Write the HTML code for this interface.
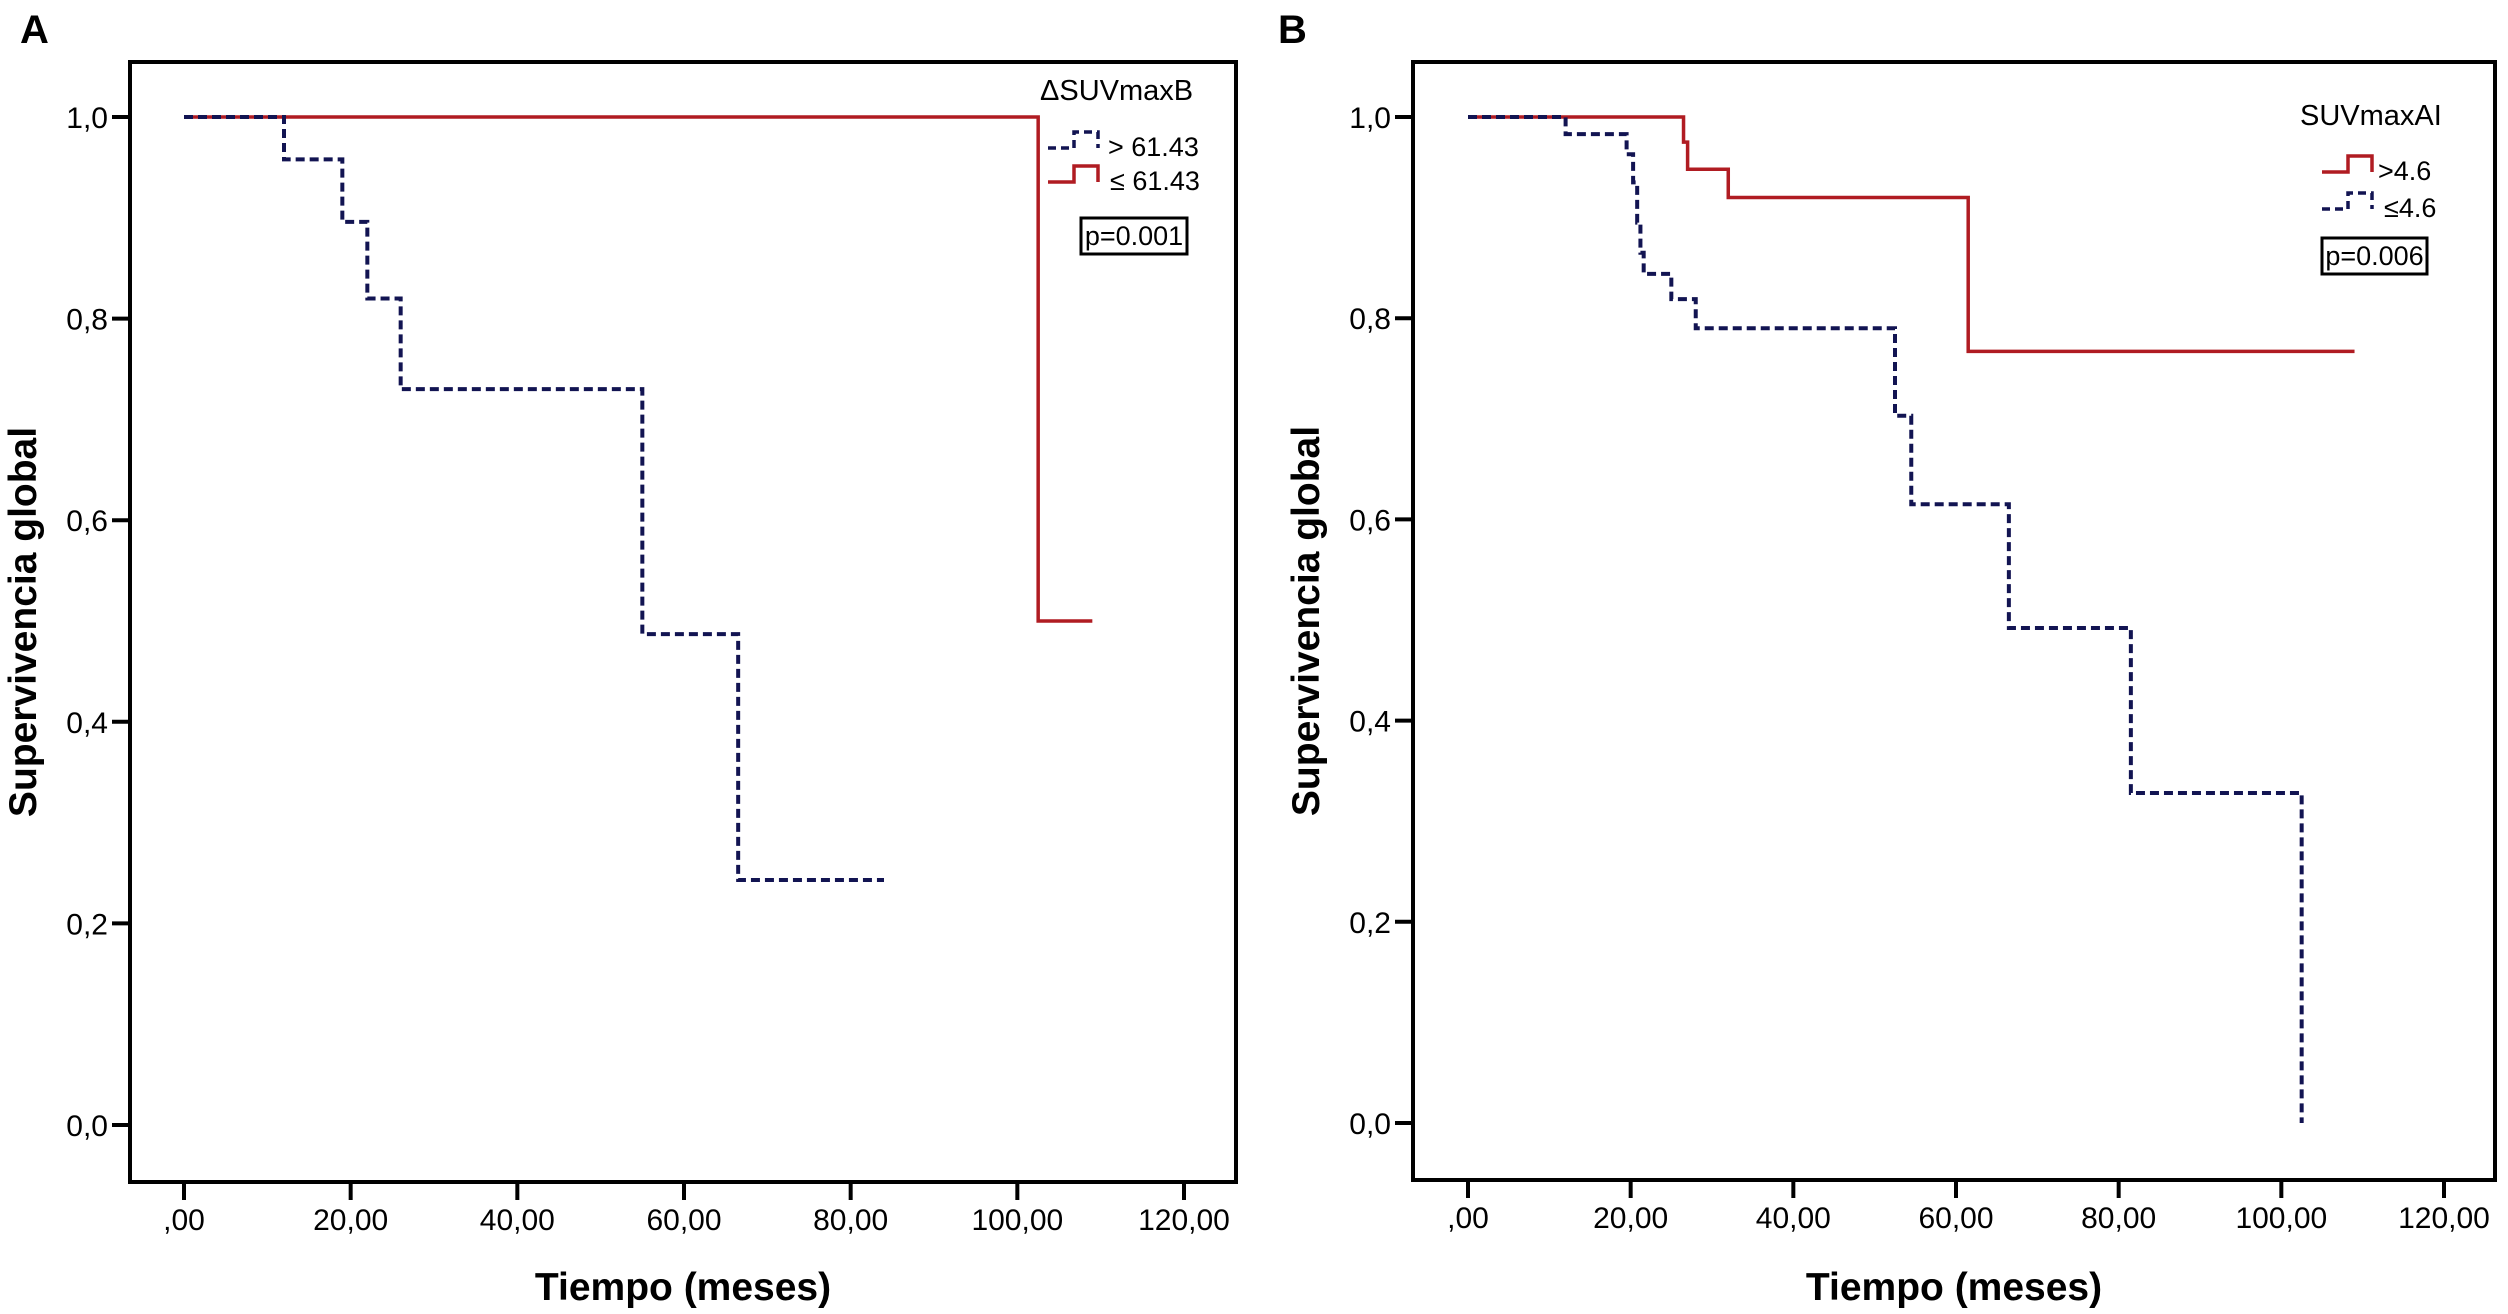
<!DOCTYPE html>
<html><head><meta charset="utf-8"><style>
html,body{margin:0;padding:0;background:#fff}
svg{display:block}
text{font-family:"Liberation Sans",sans-serif}
</style></head><body>
<svg id="chart" width="2508" height="1314" viewBox="0 0 2508 1314" xmlns="http://www.w3.org/2000/svg"></svg>
<script>
// Panel A data
const aBlueTimes = [0, 12, 19, 22, 26, 55, 66.5, 84];
const aBlueSurv  = [1.0, 0.958, 0.896, 0.82, 0.73, 0.487, 0.243, 0.243];
const aRedTimes  = [0, 102.5, 109];
const aRedSurv   = [1.0, 0.5, 0.5];
// Panel B data
const bRedTimes  = [0, 26.5, 27, 32, 61.5, 109];
const bRedSurv   = [1.0, 0.975, 0.948, 0.92, 0.767, 0.767];
const bBlueTimes = [0, 12, 19.5, 20.3, 20.8, 21.2, 21.6, 25, 28, 52.5, 54.5, 66.5, 81.5, 102.5];
const bBlueSurv  = [1.0, 0.983, 0.963, 0.935, 0.895, 0.865, 0.844, 0.819, 0.79, 0.703, 0.615, 0.492, 0.328, 0.0];
const xTickVals = [0, 20, 40, 60, 80, 100, 120];
const xTickLabels = [",00", "20,00", "40,00", "60,00", "80,00", "100,00", "120,00"];
const yTickVals = [0, 0.2, 0.4, 0.6, 0.8, 1.0];
const yTickLabels = ["0,0", "0,2", "0,4", "0,6", "0,8", "1,0"];

const NS = "http://www.w3.org/2000/svg";
const svg = document.getElementById('chart');
function mk(tag, attrs, parent) {
  const e = document.createElementNS(NS, tag);
  for (const k in attrs) e.setAttribute(k, attrs[k]);
  (parent || svg).appendChild(e);
  return e;
}
const BLUE = "#121452", RED = "#b01c22";

function panel(cfg) {
  const g = mk('g', {});
  
  
  const xs = t => cfg.x0 + (t / 120) * (cfg.x120 - cfg.x0);
  const ys = s => cfg.y0 + s * (cfg.y1 - cfg.y0);
  const fr = mk('rect', {x: cfg.fl, y: cfg.ft, width: cfg.fr - cfg.fl, height: cfg.fb - cfg.ft, fill: 'none', stroke: '#000', 'stroke-width': 4}, g);
  
  
  xTickVals.forEach((v, i) => {
    const x = xs(v);
    const tk = mk('line', {x1: x, x2: x, y1: cfg.fb, y2: cfg.fb + 18, stroke: '#000', 'stroke-width': 4}, g);
    
    
    const t = mk('text', {x: x, y: cfg.fb + 48, 'font-size': 30, 'text-anchor': 'middle'}, g);
    
    
    t.textContent = xTickLabels[i];
  });
  yTickVals.forEach((v, i) => {
    const y = ys(v);
    const tk = mk('line', {x1: cfg.fl - 18, x2: cfg.fl, y1: y, y2: y, stroke: '#000', 'stroke-width': 4}, g);
    
    
    const t = mk('text', {x: cfg.fl - 22, y: y + 11, 'font-size': 30, 'text-anchor': 'end'}, g);
    
    
    t.textContent = yTickLabels[i];
  });
  const xt = mk('text', {x: (cfg.fl + cfg.fr) / 2, y: 1300, 'font-size': 39, 'font-weight': 'bold', 'text-anchor': 'middle'}, g);
  
  
  xt.textContent = 'Tiempo (meses)';
  const ytx = cfg.fl - 94, yty = (cfg.ft + cfg.fb) / 2;
  const yt = mk('text', {x: ytx, y: yty, 'font-size': 39, 'font-weight': 'bold', 'text-anchor': 'middle', transform: `rotate(-90 ${ytx} ${yty})`}, g);
  
  
  yt.textContent = 'Supervivencia global';
  const lt = mk('text', {x: cfg.letterX, y: 43, 'font-size': 40, 'font-weight': 'bold'}, g);
  
  
  lt.textContent = cfg.letter;
  cfg.series.forEach(s => {
    let d = `M${xs(s.t[0])},${ys(s.s[0])}`;
    for (let i = 1; i < s.t.length; i++) {
      d += ` H${xs(s.t[i])} V${ys(s.s[i])}`;
    }
    const p = mk('path', {d: d, fill: 'none', stroke: s.color, 'stroke-width': s.dash ? 4 : 3.5, 'stroke-dasharray': s.dash ? '9 5' : 'none'}, g);
    
    
  });
  // legend
  const L = cfg.legend;
  const lg = mk('g', {}, g);
  
  
  const tt = mk('text', {x: L.titleX, y: L.titleY, 'font-size': 29}, lg);
  
  
  tt.textContent = L.title;
  L.entries.forEach(e => {
    const sx = L.symX, y = e.y - 8;
    const p = mk('path', {d: `M${sx},${y} H${sx + 26} V${y - 16} H${sx + 50} V${y}`, fill: 'none', stroke: e.color, 'stroke-width': 3.5, 'stroke-dasharray': e.dash ? '8 5' : 'none'}, lg);
    
    
    const t = mk('text', {x: e.tx, y: e.y, 'font-size': 27}, lg);
    
    
    t.textContent = e.label;
  });
  const pb = mk('rect', {x: L.px, y: L.py, width: L.pw, height: L.ph, fill: '#fff', stroke: '#000', 'stroke-width': 3}, lg);
  
  
  const pt = mk('text', {x: L.px + L.pw / 2, y: L.py + L.ph - 9, 'font-size': 27, 'text-anchor': 'middle'}, lg);
  
  
  pt.textContent = L.p;
}

panel({name: 'panel-a', letter: 'A', letterX: 20, fl: 130, ft: 62, fr: 1236, fb: 1182,
  x0: 184, x120: 1184, y0: 1125, y1: 117,
  series: [
    {name: 'series-red-le-61-43', t: aRedTimes, s: aRedSurv, color: RED, dash: false},
    {name: 'series-blue-gt-61-43', t: aBlueTimes, s: aBlueSurv, color: BLUE, dash: true}
  ],
  legend: {title: '\u0394SUVmaxB', titleX: 1040, titleY: 100, symX: 1048,
    entries: [
      {label: '> 61.43', y: 156, tx: 1108, color: BLUE, dash: true},
      {label: '\u2264 61.43', y: 190, tx: 1110, color: RED, dash: false}
    ], px: 1081, py: 218, pw: 106, ph: 36, p: 'p=0.001'}
});
panel({name: 'panel-b', letter: 'B', letterX: 1278, fl: 1413, ft: 62, fr: 2495, fb: 1180,
  x0: 1468, x120: 2444, y0: 1123, y1: 117,
  series: [
    {name: 'series-red-gt-4-6', t: bRedTimes, s: bRedSurv, color: RED, dash: false},
    {name: 'series-blue-le-4-6', t: bBlueTimes, s: bBlueSurv, color: BLUE, dash: true}
  ],
  legend: {title: 'SUVmaxAI', titleX: 2300, titleY: 125, symX: 2322,
    entries: [
      {label: '>4.6', y: 180, tx: 2378, color: RED, dash: false},
      {label: '\u22644.6', y: 217, tx: 2384, color: BLUE, dash: true}
    ], px: 2322, py: 238, pw: 105, ph: 36, p: 'p=0.006'}
});
</script>
</body></html>
